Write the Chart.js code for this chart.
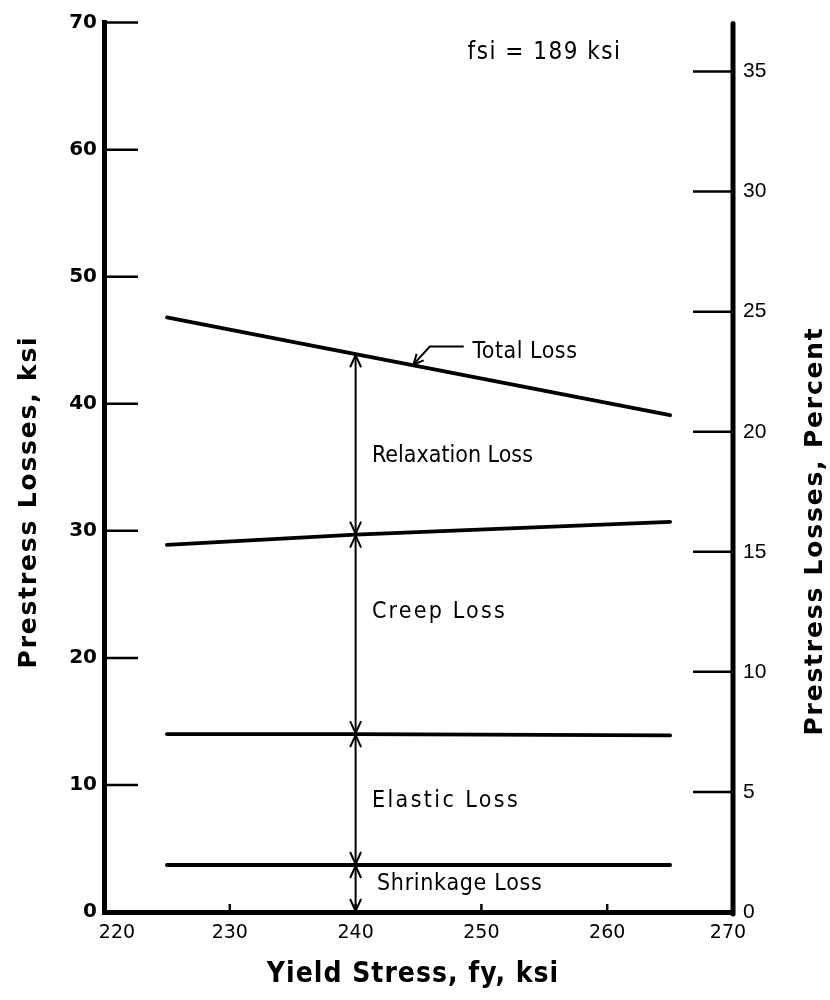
<!DOCTYPE html>
<html><head><meta charset="utf-8">
<script src="https://cdn.jsdelivr.net/npm/chart.js@4.4.1/dist/chart.umd.min.js"></script>
<style>html,body{margin:0;padding:0;background:#fff}#wrap{width:830px;height:1000px;position:relative}</style>
</head><body><div id="wrap"><canvas id="c" width="830" height="1000"></canvas></div>
<script>
// ---- data ----
const yieldStress = [225, 240, 265];           // ksi (x positions of read values)
const totalLoss    = [46.8, 43.9, 39.1];        // top of relaxation loss
const creepTop     = [28.9, 29.7, 30.7];        // top of creep loss
const elasticTop   = [14.0, 14.0, 13.9];        // top of elastic loss
const shrinkageTop = [3.7, 3.7, 3.7];           // top of shrinkage loss
const xTicks = [220, 230, 240, 250, 260, 270];
const ksiTicks = [0, 10, 20, 30, 40, 50, 60, 70];
const percentTicks = [0, 5, 10, 15, 20, 25, 30, 35];
const fsi = 189;                                 // ksi, initial stress
const segmentLabels = ['Relaxation Loss', 'Creep Loss', 'Elastic Loss', 'Shrinkage Loss'];
const totalLabel = 'Total Loss';
const noteText = 'fsi = 189 ksi';
const xTitle = 'Yield Stress, fy, ksi';
const yTitle = 'Prestress Losses, ksi';
const y2Title = 'Prestress Losses, Percent';

const pts = arr => yieldStress.map((x, i) => ({x: x, y: arr[i]}));
const lineDs = arr => ({data: pts(arr), borderColor: '#000', borderWidth: 3.8, pointRadius: 0, tension: 0, fill: false, clip: false, borderCapStyle: 'round'});
const arrowX = yieldStress[1];

const decor = {
  id: 'decor',
  afterDraw(chart) {
    const ctx = chart.ctx, a = chart.chartArea;
    const x = chart.scales.x, y = chart.scales.y, y2 = chart.scales.y2;
    ctx.save();
    ctx.strokeStyle = '#000'; ctx.fillStyle = '#000';
    // right axis line
    ctx.lineWidth = 5; ctx.lineCap = 'round';
    ctx.beginPath(); ctx.moveTo(y2.left, y2.getPixelForValue(0) + 2); ctx.lineTo(y2.left, y2.getPixelForValue(37.0)); ctx.stroke();
    ctx.lineCap = 'butt';
    // inward tick marks
    ctx.lineWidth = 2.5;
    ksiTicks.slice(1).forEach(v => { const p = y.getPixelForValue(v); ctx.beginPath(); ctx.moveTo(a.left, p); ctx.lineTo(a.left + 34, p); ctx.stroke(); });
    percentTicks.slice(1).forEach(v => { const p = y2.getPixelForValue(v); ctx.beginPath(); ctx.moveTo(a.right - 40, p); ctx.lineTo(a.right, p); ctx.stroke(); });
    xTicks.slice(1, -1).forEach(v => { const p = x.getPixelForValue(v); ctx.beginPath(); ctx.moveTo(p, a.bottom); ctx.lineTo(p, a.bottom - 8); ctx.stroke(); });
    // x tick labels (end labels nudged inward as in the reference)
    ctx.textBaseline = 'middle'; ctx.textAlign = 'center';
    ctx.font = '19px "DejaVu Sans", sans-serif';
    xTicks.forEach((v, i) => {
      let p = x.getPixelForValue(v);
      if (i === 0) p += 13;
      if (i === xTicks.length - 1) p -= 5;
      ctx.fillText(String(v), p, a.bottom + 21);
    });
    // arrowheads on the vertical dimension line
    const bounds = [0, shrinkageTop[1], elasticTop[1], creepTop[1], totalLoss[1]];
    const ax = x.getPixelForValue(arrowX);
    ctx.lineWidth = 2;
    const head = (py, dir) => { // dir -1 = pointing up, +1 = pointing down
      ctx.beginPath();
      ctx.moveTo(ax - 5.5, py - dir * 12); ctx.lineTo(ax, py); ctx.lineTo(ax + 5.5, py - dir * 12);
      ctx.stroke();
    };
    for (let i = 0; i < bounds.length - 1; i++) {
      const pLow = y.getPixelForValue(bounds[i]), pHigh = y.getPixelForValue(bounds[i + 1]);
      head(pLow - 1, 1);
      head(pHigh + 1, -1);
    }
    // Total Loss leader
    const tipX = 244.6, tipY = totalLoss[1] + (totalLoss[2] - totalLoss[1]) * (tipX - 240) / 25;
    const t = {x: x.getPixelForValue(tipX), y: y.getPixelForValue(tipY) - 1};
    const e = {x: x.getPixelForValue(245.9), y: y.getPixelForValue(44.5)};
    const f = {x: x.getPixelForValue(248.6), y: e.y};
    ctx.lineWidth = 2;
    ctx.beginPath(); ctx.moveTo(f.x, f.y); ctx.lineTo(e.x, e.y); ctx.lineTo(t.x, t.y); ctx.stroke();
    const ang = Math.atan2(e.y - t.y, e.x - t.x);
    ctx.beginPath();
    ctx.moveTo(t.x + 11 * Math.cos(ang + 0.45), t.y + 11 * Math.sin(ang + 0.45));
    ctx.lineTo(t.x, t.y);
    ctx.lineTo(t.x + 11 * Math.cos(ang - 0.45), t.y + 11 * Math.sin(ang - 0.45));
    ctx.stroke();
    // texts
    ctx.textBaseline = 'middle'; ctx.textAlign = 'left';
    const setSp = s => { try { ctx.letterSpacing = s; } catch (err) {} };
    ctx.font = '23px "DejaVu Sans Condensed", "DejaVu Sans", sans-serif';
    setSp('0.5px'); ctx.fillText(totalLabel, x.getPixelForValue(249.3), y.getPixelForValue(44.1));
    setSp('0px');   ctx.fillText(segmentLabels[0], x.getPixelForValue(241.3), y.getPixelForValue(35.9));
    setSp('2.2px'); ctx.fillText(segmentLabels[1], x.getPixelForValue(241.3), y.getPixelForValue(23.6));
    setSp('2.4px'); ctx.fillText(segmentLabels[2], x.getPixelForValue(241.3), y.getPixelForValue(8.75));
    setSp('0.7px'); ctx.fillText(segmentLabels[3], x.getPixelForValue(241.7), y.getPixelForValue(2.2));
    ctx.font = '24px "DejaVu Sans Condensed", "DejaVu Sans", sans-serif';
    setSp('1.5px');
    ctx.fillText(noteText, x.getPixelForValue(248.9), y.getPixelForValue(67.6));
    // axis titles
    ctx.textAlign = 'center';
    ctx.font = 'bold 28px "DejaVu Sans Condensed", "DejaVu Sans", sans-serif';
    setSp('1px');
    ctx.fillText(xTitle, 413, 975);
    ctx.font = 'bold 25px "DejaVu Sans", sans-serif';
    setSp('1.8px');
    ctx.save(); ctx.translate(29, 502); ctx.rotate(-Math.PI / 2); ctx.fillText(yTitle, 0, 0); ctx.restore();
    ctx.save(); ctx.translate(815, 531); ctx.rotate(-Math.PI / 2); ctx.fillText(y2Title, 0, 0); ctx.restore();
    ctx.restore();
  }
};

new Chart(document.getElementById('c'), {
  type: 'line',
  data: {
    datasets: [
      lineDs(totalLoss),
      lineDs(creepTop),
      lineDs(elasticTop),
      lineDs(shrinkageTop),
      {data: [{x: arrowX, y: 0}, {x: arrowX, y: totalLoss[1]}], borderColor: '#000', borderWidth: 2, pointRadius: 0, fill: false}
    ]
  },
  options: {
    responsive: false, animation: false, devicePixelRatio: 1,
    layout: {padding: {top: 16, left: 0, right: 0, bottom: 0}},
    plugins: {legend: {display: false}, tooltip: {enabled: false}},
    scales: {
      x: {
        type: 'linear', position: 'bottom', min: xTicks[0], max: xTicks[xTicks.length - 1],
        afterFit: s => { s.height = 88; },
        grid: {display: false, drawTicks: false},
        border: {display: true, width: 5, color: '#000'},
        ticks: {display: false, stepSize: 10}
      },
      y: {
        type: 'linear', position: 'left', min: ksiTicks[0], max: ksiTicks[ksiTicks.length - 1],
        afterFit: s => { s.width = 104; },
        grid: {display: false, drawTicks: false},
        border: {display: true, width: 5, color: '#000'},
        ticks: {stepSize: 10, padding: 7, color: '#000', font: {family: '"DejaVu Sans", sans-serif', size: 20, weight: 'bold'}}
      },
      y2: {
        type: 'linear', position: 'right', min: 0, max: ksiTicks[ksiTicks.length - 1] / fsi * 100,
        afterFit: s => { s.width = 97; },
        grid: {display: false, drawTicks: false},
        border: {display: false},
        ticks: {stepSize: 5, includeBounds: false, padding: 10, color: '#000',
                font: {family: '"Liberation Sans", Arial, sans-serif', size: 21}}
      }
    }
  },
  plugins: [decor]
});
</script></body></html>
